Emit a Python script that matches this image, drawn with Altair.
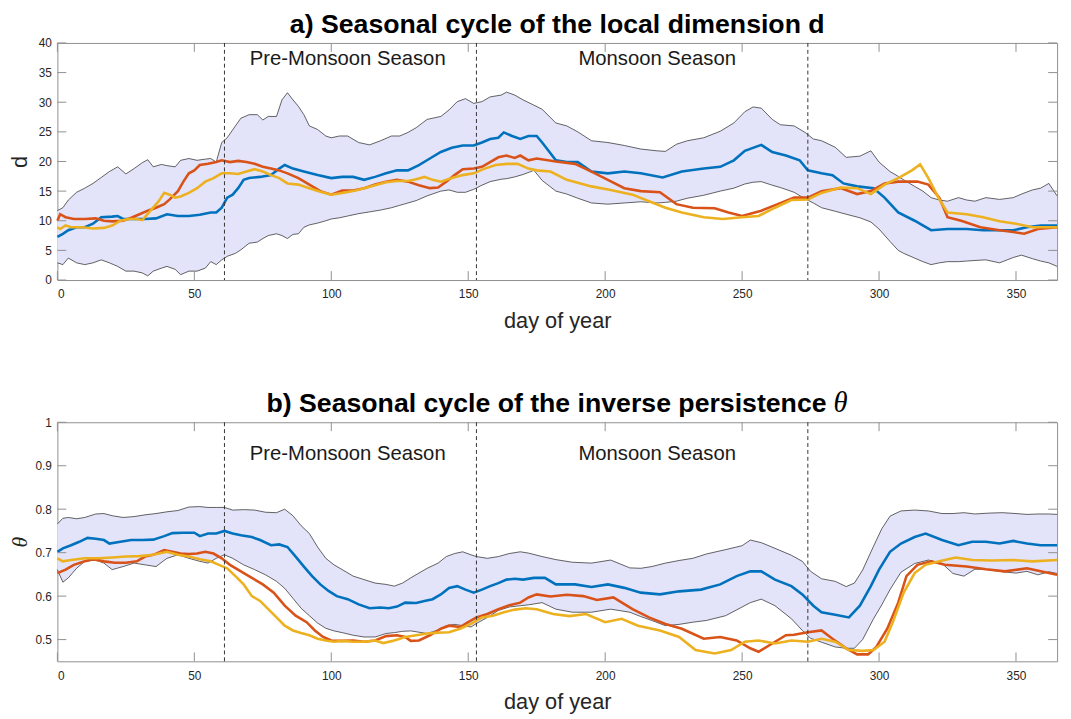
import altair as alt
import pandas as pd

# ---------------- data ----------------
x_ticks = [0, 50, 100, 150, 200, 250, 300, 350]
y_ticks_a = [0, 5, 10, 15, 20, 25, 30, 35, 40]
y_ticks_b = [0.5, 0.6, 0.7, 0.8, 0.9, 1.0]
season_bounds = [61, 153, 274]
season_names = ["Pre-Monsoon Season", "Monsoon Season"]
season_label_days = [106, 219]
season_label_y_a = [37.2, 37.2]
season_label_y_b = [0.927, 0.927]
title_a = "a) Seasonal cycle of the local dimension d"
title_b = "b) Seasonal cycle of the inverse persistence"
title_b_symbol = "θ"

# (day, lower, upper)
band_a = [
    (0, 2.9, 11.7), (2, 2.6, 12.2), (4, 3.7, 13.5), (7, 2.9, 14.8), (10, 2.6, 15.5),
    (13, 2.9, 16.3), (16, 3.4, 17.3), (19, 2.9, 18.3), (22, 2.3, 19.1), (25, 1.5, 17.9),
    (28, 1.5, 18.8), (31, 1.2, 19.8), (33, 0.7, 20.3), (35, 1.5, 19.1), (38, 2.0, 19.5),
    (40, 2.3, 19.3), (43, 1.8, 19.1), (45, 0.9, 20.2), (48, 1.5, 20.5), (51, 1.5, 20.2),
    (54, 2.0, 20.4), (56, 3.1, 20.5), (58, 2.6, 19.9), (60, 3.4, 23.2), (62, 4.0, 24.0),
    (65, 4.5, 26.0), (67, 5.1, 27.3), (70, 6.2, 27.9), (73, 6.4, 27.9), (75, 7.0, 27.0),
    (77, 7.5, 27.6), (80, 7.8, 27.6), (82, 7.5, 30.4), (84, 7.0, 31.6), (86, 7.7, 30.4),
    (88, 7.8, 29.3), (90, 8.9, 27.9), (92, 9.3, 26.0), (95, 9.6, 25.4), (98, 10.0, 24.3),
    (100, 10.3, 24.0), (103, 10.5, 24.3), (106, 10.8, 24.3), (110, 11.2, 23.2), (114, 11.5, 22.8),
    (118, 11.8, 23.5), (122, 12.2, 24.3), (125, 12.6, 24.3), (128, 13.0, 24.9), (131, 13.4, 25.7),
    (135, 14.2, 27.1), (140, 15.0, 27.6), (143, 15.2, 28.7), (146, 14.8, 30.1), (149, 14.8, 30.6),
    (152, 15.3, 29.8), (155, 16.0, 30.1), (158, 16.6, 30.9), (162, 17.0, 31.2), (164, 17.1, 31.7),
    (167, 17.4, 31.2), (170, 17.8, 30.4), (174, 18.5, 29.5), (177, 16.8, 28.8), (182, 15.0, 26.5),
    (186, 14.5, 26.0), (190, 13.8, 25.0), (195, 13.0, 23.5), (201, 12.8, 23.2), (207, 13.0, 22.7),
    (213, 13.2, 22.1), (219, 13.0, 21.8), (222, 13.1, 21.7), (226, 13.3, 22.9), (230, 13.8, 23.5),
    (236, 14.3, 24.0), (242, 15.0, 25.1), (247, 15.5, 26.5), (251, 16.2, 28.4), (254, 16.5, 29.2),
    (257, 16.6, 29.0), (261, 16.0, 27.1), (264, 15.6, 26.2), (269, 14.8, 26.0), (273, 13.7, 24.9),
    (276, 13.0, 23.8), (279, 12.2, 23.5), (284, 11.6, 22.4), (288, 11.1, 20.7), (293, 10.5, 20.9),
    (297, 9.8, 21.8), (300, 8.6, 19.9), (304, 6.5, 18.3), (307, 5.0, 17.5), (309, 4.5, 16.9),
    (313, 3.7, 15.8), (316, 3.1, 15.0), (319, 2.6, 13.9), (322, 2.9, 13.5), (325, 3.1, 13.3),
    (329, 3.1, 13.9), (332, 3.2, 13.5), (335, 3.3, 13.3), (339, 3.4, 13.9), (344, 2.9, 13.6),
    (349, 3.8, 13.9), (352, 4.2, 14.5), (356, 3.6, 15.2), (359, 3.2, 15.5), (362, 2.9, 16.3),
    (365, 2.3, 14.2),
]

blue_a = [
    (0, 7.3), (2, 7.8), (4, 8.4), (7, 8.9), (10, 8.9), (13, 9.5), (16, 10.6), (20, 10.7), (22, 10.8),
    (24, 10.3), (28, 10.3), (32, 10.3), (36, 10.4), (40, 11.1), (44, 10.8), (48, 10.8), (52, 11.0),
    (56, 11.4), (58, 11.4), (60, 12.2), (62, 13.9), (64, 14.4), (66, 15.5), (68, 16.9), (70, 17.2),
    (74, 17.4), (78, 17.7), (81, 18.8), (83, 19.4), (86, 18.8), (90, 18.3), (95, 17.7), (100, 17.2),
    (104, 17.4), (108, 17.4), (112, 16.9), (116, 17.4), (120, 18.0), (124, 18.5), (128, 18.5),
    (132, 19.4), (136, 20.5), (140, 21.6), (144, 22.3), (148, 22.7), (152, 22.7), (155, 23.2),
    (158, 23.8), (161, 24.0), (163, 24.9), (166, 24.3), (169, 23.8), (172, 24.3), (175, 24.3),
    (177, 23.2), (182, 20.2), (186, 19.9), (190, 19.9), (195, 18.3), (201, 18.0), (207, 18.3),
    (213, 18.0), (221, 17.3), (228, 18.3), (236, 18.8), (242, 19.1), (247, 20.2), (251, 21.8),
    (257, 22.8), (261, 21.6), (266, 21.0), (271, 20.2), (274, 18.5), (279, 18.0), (283, 17.7),
    (287, 16.3), (292, 15.8), (298, 15.5), (302, 13.9), (307, 11.4), (313, 10.0), (319, 8.4),
    (325, 8.6), (332, 8.6), (338, 8.4), (344, 8.4), (349, 8.4), (354, 8.9), (359, 9.2), (365, 9.2),
]

red_a = [
    (0, 10.0), (1, 11.1), (3, 10.6), (6, 10.3), (10, 10.3), (14, 10.4), (17, 10.0), (20, 9.9),
    (24, 10.0), (27, 10.5), (30, 11.1), (33, 11.7), (36, 12.2), (39, 12.8), (41, 13.6), (44, 15.0),
    (46, 16.6), (48, 18.0), (50, 18.5), (52, 19.4), (55, 19.6), (58, 19.9), (60, 20.2), (63, 19.9),
    (66, 20.1), (69, 19.9), (72, 19.6), (75, 19.1), (78, 18.8), (81, 18.5), (84, 18.0), (88, 17.2),
    (92, 16.1), (96, 15.0), (100, 14.4), (104, 15.1), (108, 15.1), (112, 15.5), (116, 16.1),
    (120, 16.6), (124, 16.9), (128, 16.6), (132, 16.0), (136, 15.5), (139, 15.6), (142, 16.6),
    (145, 17.7), (148, 18.7), (152, 18.8), (155, 19.1), (158, 19.9), (161, 20.7), (164, 21.0),
    (167, 20.6), (169, 21.0), (172, 20.2), (175, 20.5), (182, 20.0), (189, 19.6), (195, 18.3),
    (201, 16.9), (207, 15.5), (213, 15.0), (220, 14.8), (226, 12.8), (232, 12.2), (240, 12.1),
    (245, 11.4), (250, 10.8), (257, 11.7), (263, 12.8), (269, 13.9), (274, 13.9), (279, 15.0),
    (286, 15.5), (292, 14.5), (297, 15.0), (302, 16.3), (307, 16.6), (314, 16.6), (318, 16.1),
    (322, 13.9), (325, 10.6), (330, 10.0), (337, 8.9), (344, 8.4), (349, 8.1), (353, 7.8),
    (358, 8.6), (365, 8.9),
]

orange_a = [
    (0, 8.9), (1, 8.6), (3, 9.2), (5, 8.9), (9, 8.9), (13, 8.7), (17, 8.8), (20, 9.2), (23, 10.0),
    (26, 10.3), (29, 10.3), (31, 10.1), (34, 11.7), (37, 13.3), (39, 14.7), (41, 14.4), (43, 13.9),
    (45, 14.1), (48, 14.7), (51, 15.5), (54, 16.6), (57, 17.2), (60, 18.0), (63, 18.0), (66, 17.9),
    (69, 18.3), (72, 18.7), (75, 18.3), (78, 17.7), (81, 17.2), (84, 16.3), (88, 16.1), (92, 15.5),
    (96, 14.9), (100, 14.4), (104, 14.7), (108, 15.0), (112, 15.5), (116, 16.0), (120, 16.5),
    (124, 16.7), (128, 16.7), (131, 17.0), (134, 17.4), (137, 16.9), (140, 16.6), (144, 17.2),
    (148, 17.7), (152, 18.0), (156, 18.8), (160, 19.4), (164, 19.6), (168, 19.6), (172, 18.8),
    (175, 18.5), (180, 18.3), (186, 16.9), (195, 15.8), (202, 15.2), (210, 14.4), (216, 13.3),
    (222, 12.2), (228, 11.4), (236, 10.6), (243, 10.3), (250, 10.6), (256, 10.8), (262, 12.2),
    (268, 13.5), (274, 13.6), (279, 14.7), (286, 15.6), (292, 15.5), (297, 14.5), (302, 16.1),
    (307, 17.2), (312, 18.5), (315, 19.5), (318, 17.2), (322, 13.6), (325, 11.4), (332, 11.1),
    (338, 10.6), (344, 9.9), (350, 9.5), (356, 8.9), (361, 8.9), (365, 8.9),
]

band_b = [
    (0, 0.661, 0.766), (2, 0.632, 0.779), (4, 0.642, 0.781), (7, 0.664, 0.778), (10, 0.680, 0.781),
    (14, 0.683, 0.789), (17, 0.676, 0.790), (20, 0.661, 0.785), (24, 0.668, 0.781), (28, 0.676, 0.783),
    (32, 0.672, 0.787), (36, 0.668, 0.790), (40, 0.687, 0.794), (44, 0.695, 0.797), (48, 0.687, 0.805),
    (52, 0.680, 0.806), (55, 0.676, 0.804), (58, 0.687, 0.804), (61, 0.695, 0.804), (64, 0.687, 0.798),
    (68, 0.672, 0.799), (72, 0.661, 0.798), (76, 0.649, 0.793), (80, 0.634, 0.792), (83, 0.618, 0.800),
    (86, 0.595, 0.785), (89, 0.572, 0.762), (92, 0.555, 0.744), (95, 0.538, 0.713), (98, 0.526, 0.687),
    (101, 0.520, 0.672), (104, 0.516, 0.661), (108, 0.510, 0.646), (112, 0.506, 0.638), (116, 0.506, 0.630),
    (120, 0.514, 0.627), (123, 0.516, 0.623), (126, 0.519, 0.630), (129, 0.520, 0.642), (132, 0.517, 0.653),
    (135, 0.514, 0.664), (139, 0.522, 0.676), (142, 0.532, 0.691), (145, 0.535, 0.698), (148, 0.532, 0.702),
    (151, 0.529, 0.695), (153, 0.537, 0.691), (157, 0.551, 0.687), (161, 0.567, 0.691), (165, 0.575, 0.698),
    (169, 0.578, 0.702), (172, 0.580, 0.699), (177, 0.585, 0.691), (182, 0.570, 0.684), (188, 0.563, 0.678),
    (195, 0.563, 0.676), (202, 0.570, 0.683), (209, 0.563, 0.665), (213, 0.553, 0.664), (217, 0.544, 0.668),
    (222, 0.532, 0.676), (227, 0.535, 0.682), (232, 0.540, 0.687), (237, 0.544, 0.697), (244, 0.555, 0.707),
    (250, 0.575, 0.716), (253, 0.585, 0.729), (257, 0.593, 0.723), (262, 0.578, 0.710), (268, 0.548, 0.694),
    (272, 0.521, 0.680), (275, 0.503, 0.657), (279, 0.494, 0.640), (284, 0.483, 0.634), (288, 0.480, 0.622),
    (291, 0.480, 0.630), (294, 0.500, 0.660), (298, 0.548, 0.715), (301, 0.580, 0.755), (304, 0.615, 0.784),
    (308, 0.655, 0.796), (313, 0.675, 0.798), (318, 0.683, 0.796), (323, 0.675, 0.790), (327, 0.652, 0.790),
    (331, 0.646, 0.792), (335, 0.662, 0.789), (340, 0.661, 0.791), (345, 0.656, 0.792), (350, 0.653, 0.790),
    (354, 0.657, 0.788), (358, 0.649, 0.789), (362, 0.656, 0.789), (365, 0.652, 0.788),
]

blue_b = [
    (0, 0.702), (2, 0.710), (5, 0.717), (8, 0.725), (11, 0.734), (14, 0.732), (17, 0.729), (19, 0.721),
    (23, 0.725), (27, 0.729), (31, 0.729), (35, 0.730), (39, 0.738), (42, 0.745), (46, 0.746), (50, 0.746),
    (52, 0.738), (55, 0.744), (58, 0.744), (61, 0.750), (64, 0.744), (67, 0.740), (71, 0.736), (74, 0.729),
    (78, 0.717), (81, 0.719), (84, 0.713), (87, 0.691), (90, 0.668), (93, 0.646), (96, 0.627), (99, 0.612),
    (102, 0.600), (106, 0.593), (110, 0.581), (114, 0.572), (118, 0.574), (121, 0.572), (124, 0.576),
    (127, 0.585), (131, 0.584), (134, 0.589), (137, 0.593), (140, 0.604), (143, 0.619), (146, 0.623),
    (149, 0.615), (152, 0.608), (155, 0.615), (158, 0.623), (161, 0.630), (164, 0.638), (167, 0.640),
    (170, 0.638), (174, 0.642), (178, 0.642), (182, 0.627), (189, 0.627), (195, 0.621), (201, 0.627),
    (207, 0.619), (213, 0.608), (220, 0.604), (227, 0.611), (235, 0.615), (242, 0.627), (248, 0.646),
    (253, 0.657), (257, 0.657), (262, 0.638), (268, 0.623), (272, 0.604), (276, 0.578), (279, 0.563),
    (284, 0.557), (289, 0.551), (293, 0.578), (297, 0.623), (300, 0.661), (304, 0.702), (308, 0.721),
    (313, 0.736), (317, 0.744), (323, 0.729), (329, 0.717), (334, 0.725), (339, 0.725), (344, 0.721),
    (349, 0.727), (354, 0.721), (359, 0.717), (365, 0.717),
]

red_b = [
    (0, 0.653), (3, 0.661), (6, 0.672), (10, 0.680), (13, 0.685), (17, 0.680), (21, 0.677), (25, 0.677),
    (29, 0.680), (32, 0.691), (35, 0.695), (39, 0.706), (42, 0.702), (45, 0.698), (48, 0.697), (51, 0.698),
    (54, 0.702), (57, 0.698), (60, 0.687), (63, 0.672), (67, 0.657), (71, 0.642), (75, 0.627), (79, 0.608),
    (83, 0.578), (87, 0.555), (91, 0.540), (94, 0.521), (97, 0.506), (100, 0.498), (104, 0.497), (108, 0.498),
    (112, 0.495), (116, 0.498), (120, 0.508), (124, 0.510), (127, 0.506), (129, 0.497), (132, 0.498),
    (136, 0.510), (140, 0.525), (143, 0.532), (147, 0.529), (150, 0.540), (153, 0.551), (157, 0.559),
    (161, 0.570), (165, 0.579), (169, 0.585), (172, 0.597), (175, 0.604), (180, 0.599), (186, 0.603),
    (192, 0.600), (197, 0.591), (203, 0.597), (210, 0.570), (216, 0.551), (222, 0.536), (228, 0.525),
    (236, 0.502), (242, 0.506), (248, 0.498), (253, 0.480), (256, 0.472), (261, 0.491), (266, 0.510),
    (269, 0.511), (274, 0.517), (279, 0.521), (283, 0.502), (288, 0.480), (292, 0.466), (296, 0.466),
    (299, 0.483), (303, 0.525), (307, 0.585), (310, 0.646), (314, 0.672), (319, 0.680), (324, 0.672),
    (332, 0.668), (339, 0.662), (346, 0.657), (354, 0.664), (359, 0.657), (365, 0.649),
]

orange_b = [
    (0, 0.687), (2, 0.680), (5, 0.683), (10, 0.687), (15, 0.687), (20, 0.689), (25, 0.691), (30, 0.692),
    (35, 0.695), (40, 0.702), (44, 0.695), (48, 0.691), (52, 0.685), (56, 0.680), (59, 0.672), (62, 0.664),
    (65, 0.646), (68, 0.627), (71, 0.600), (74, 0.589), (77, 0.570), (80, 0.551), (83, 0.532), (86, 0.521),
    (89, 0.515), (92, 0.510), (95, 0.502), (98, 0.498), (101, 0.495), (104, 0.497), (108, 0.495),
    (112, 0.495), (116, 0.498), (119, 0.492), (123, 0.498), (127, 0.506), (131, 0.510), (135, 0.514),
    (139, 0.516), (143, 0.517), (147, 0.525), (151, 0.536), (155, 0.551), (159, 0.555), (163, 0.563),
    (167, 0.569), (171, 0.572), (175, 0.570), (181, 0.559), (187, 0.554), (193, 0.559), (200, 0.540),
    (206, 0.548), (212, 0.532), (220, 0.521), (227, 0.506), (233, 0.476), (240, 0.468), (246, 0.476),
    (251, 0.495), (256, 0.498), (262, 0.491), (268, 0.498), (274, 0.495), (279, 0.502), (284, 0.495),
    (289, 0.476), (294, 0.474), (298, 0.476), (302, 0.495), (305, 0.540), (309, 0.608), (313, 0.653),
    (317, 0.672), (322, 0.680), (328, 0.689), (334, 0.683), (341, 0.682), (349, 0.683), (356, 0.680),
    (365, 0.683),
]

# ---------------- styling ----------------
W = 1012
FONT = "Liberation Sans"
AX_COL = "#8f8f8f"
TXT_COL = "#262626"
BAND_FILL = "#E3E3FA"
C_BLUE, C_RED, C_ORANGE = "#0072BD", "#D95319", "#EDB120"
TICK_LEN = 9
TITLE_SIZE = 27


def line_df(pairs):
    return pd.DataFrame(pairs, columns=["day", "val"])


def title_mark(text, x, y, align, font=FONT, weight="bold", style="normal", size=TITLE_SIZE):
    return alt.Chart(pd.DataFrame({"t": [text]})).mark_text(
        font=font, fontWeight=weight, fontStyle=style, fontSize=size, color="#000000",
        align=align, baseline="alphabetic"
    ).encode(text="t:N", x=alt.value(x), y=alt.value(y))


def panel(band, blue, red, orange, ydom, yticks, ytitle, yfmt, yfont, ystyle,
          height, lab_y, title_layers):
    xs = alt.Scale(domain=[0, 365], nice=False, zero=False)
    ys = alt.Scale(domain=ydom, nice=False, zero=False)
    xax = alt.Axis(values=x_ticks, title="day of year")
    yax = alt.Axis(values=yticks, title=ytitle, format=yfmt, titleFont=yfont,
                   titleFontStyle=ystyle)

    def X():
        return alt.X("day:Q", scale=xs, axis=xax)

    def Y(field="val"):
        return alt.Y(f"{field}:Q", scale=ys, axis=yax)

    bdf = pd.DataFrame(band, columns=["day", "lo", "hi"])
    area = alt.Chart(bdf).mark_area(color=BAND_FILL, opacity=1).encode(
        x=X(), y=Y("lo"), y2="hi")
    hi = alt.Chart(bdf).mark_line(color="#222222", strokeWidth=0.7).encode(x=X(), y=Y("hi"))
    lo = alt.Chart(bdf).mark_line(color="#222222", strokeWidth=0.7).encode(x=X(), y=Y("lo"))

    def series(pairs, col):
        return alt.Chart(line_df(pairs)).mark_line(color=col, strokeWidth=2.6).encode(
            x=X(), y=Y())

    rules = alt.Chart(pd.DataFrame({"day": season_bounds})).mark_rule(
        color="#333333", strokeDash=[4, 3], strokeWidth=1).encode(x=X())

    labels = alt.Chart(pd.DataFrame({"day": season_label_days, "val": lab_y,
                                     "name": season_names})).mark_text(
        font=FONT, fontSize=20.5, color="#1a1a1a", align="center", baseline="middle"
    ).encode(x=X(), y=Y(), text="name:N")

    xt = pd.DataFrame({"day": x_ticks})
    yt = pd.DataFrame({"val": yticks})
    tick_bot = alt.Chart(xt).mark_rule(color=AX_COL, strokeWidth=1).encode(
        x=X(), y=alt.value(height), y2=alt.value(height - TICK_LEN))
    tick_top = alt.Chart(xt).mark_rule(color=AX_COL, strokeWidth=1).encode(
        x=X(), y=alt.value(0), y2=alt.value(TICK_LEN))
    tick_l = alt.Chart(yt).mark_rule(color=AX_COL, strokeWidth=1).encode(
        y=Y(), x=alt.value(0), x2=alt.value(TICK_LEN))
    tick_r = alt.Chart(yt).mark_rule(color=AX_COL, strokeWidth=1).encode(
        y=Y(), x=alt.value(W - TICK_LEN), x2=alt.value(W))

    layers = [area, hi, lo,
              series(blue, C_BLUE), series(red, C_RED), series(orange, C_ORANGE),
              rules, labels, tick_bot, tick_top, tick_l, tick_r] + title_layers

    return alt.layer(*layers).properties(width=W, height=height)


# title a: centred over the plot area
ta = [title_mark(title_a, W / 2, -10, "center")]
# title b: bold sans text + italic serif theta, centred together
main_w = 21.009 * TITLE_SIZE
sym_gap, sym_w = 7, 15
start_b = W / 2 - (main_w + sym_gap + sym_w) / 2
tb = [title_mark(title_b, start_b + main_w, -10, "right"),
      title_mark(title_b_symbol, start_b + main_w + sym_gap, -10, "left",
                 font="Liberation Serif", weight="normal", style="italic", size=29)]

pa = panel(band_a, blue_a, red_a, orange_a, [0, 40], y_ticks_a, "d", "d", FONT, "normal",
           240, season_label_y_a, ta)
pb = panel(band_b, blue_b, red_b, orange_b, [0.45, 1.0], y_ticks_b, "θ", ".1~f",
           "Liberation Serif", "italic", 242, season_label_y_b, tb)

chart = alt.vconcat(pa, pb, spacing=57).properties(
    padding={"left": 0, "right": 0, "top": -2, "bottom": 0}
).configure_view(
    stroke=AX_COL, strokeWidth=1
).configure_axis(
    domain=False, ticks=False, tickSize=0, grid=False,
    labelFont=FONT, labelFontSize=12, labelColor=TXT_COL,
    titleColor=TXT_COL, titleFontWeight="normal",
).configure_axisX(
    labelPadding=9, titlePadding=11, titleFont=FONT, titleFontSize=22,
).configure_axisY(
    labelPadding=6, titleFontSize=22, titleX=-38, titleBaseline="middle",
)

chart.save("out.html", embed_options={"renderer": "svg", "actions": False})
